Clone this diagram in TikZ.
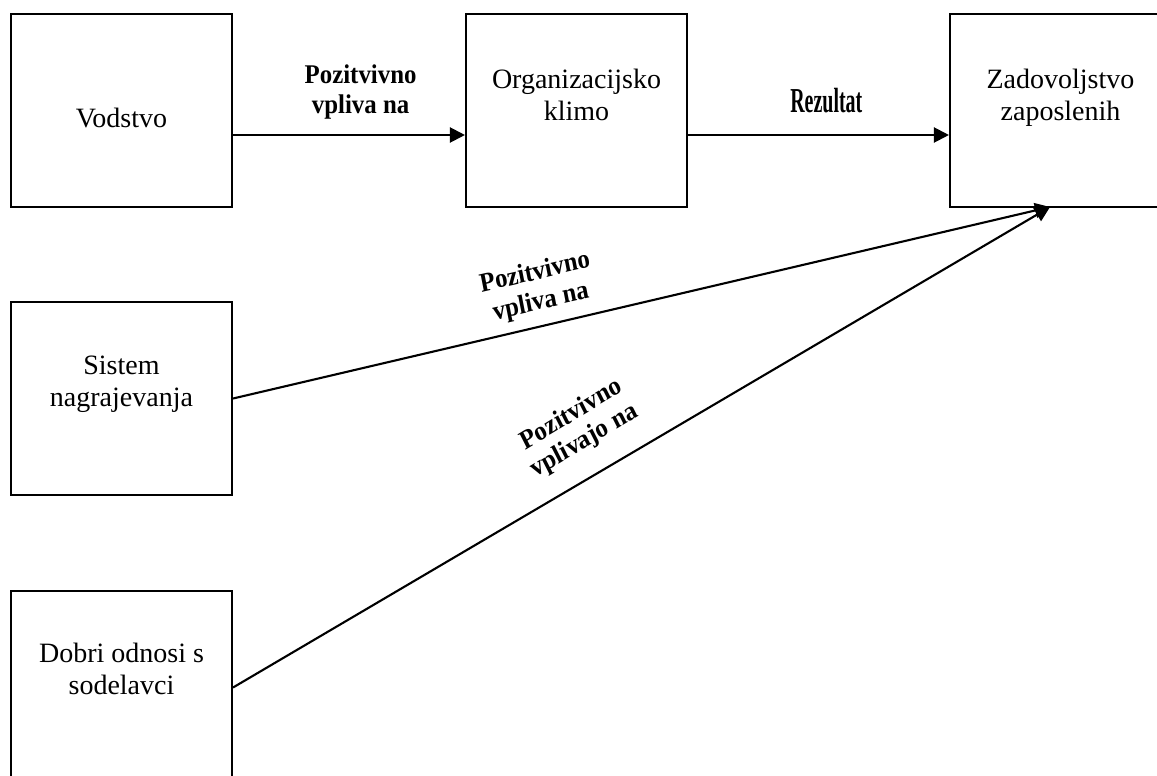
\documentclass[tikz,border=0pt]{standalone}
\usepackage{fontspec}
\setmainfont{Liberation Serif}
\newfontfamily\napis{Liberation Serif Bold}
\usetikzlibrary{arrows.meta,positioning}
\tikzset{
  blok/.style={draw,line width=2.1pt,minimum width=221pt,minimum height=193pt,inner sep=0pt},
  besedilo/.style={align=center,font=\fontsize{28}{32}\selectfont,inner sep=0pt},
  povezava/.style={line width=2.1pt,-{Triangle[length=15pt,width=15pt]}},
  oznaka/.style={align=center,font=\napis\fontsize{27}{30}\selectfont,inner sep=0pt,xscale=0.92}
}

\begin{document}
\begin{tikzpicture}[x=1pt,y=-1pt]
  \useasboundingbox (0,0) rectangle (1157,776);
  % okvirji
  \node[blok,label={[besedilo,yshift=-7pt]center:Vodstvo}] (vodstvo) at (121.5,110.5) {};
  \node[blok,label={[besedilo,yshift=16pt]center:Organizacijsko\\klimo}] (klima) at (576.5,110.5) {};
  \node[blok,label={[besedilo,yshift=13pt]center:Zadovoljstvo\\zaposlenih}] (zadovoljstvo) at (1060.5,110.5) {};
  \node[blok,label={[besedilo,yshift=14pt]center:Sistem\\nagrajevanja}] (sistem) at (121.5,398.5) {};
  \node[blok,label={[besedilo,yshift=19pt]center:Dobri odnosi s\\sodelavci}] (odnosi) at (121.5,687.5) {};
  \coordinate (stik) at (1050,207);
  % povezave
  \draw[povezava] ([yshift=-24.5pt]vodstvo.east) -- ([yshift=-24.5pt]klima.west)
    node[oznaka,pos=0.55,yshift=43pt] (napis1) {Pozitvivno\\vpliva na};
  \draw[povezava] ([yshift=-24.5pt]klima.east) -- ([yshift=-24.5pt]zadovoljstvo.west)
    node[oznaka,pos=0.53,yshift=34pt,font=\napis\fontsize{35}{35}\selectfont,xscale=0.62] (napis2) {Rezultat};
  \draw[povezava] (sistem.east) -- (stik);
  \draw[povezava] (odnosi.east) -- (stik);
  \node[oznaka,rotate=12] (napis3) at (538,288) {Pozitvivno\\vpliva na};
  \node[oznaka,rotate=29] (napis4) at (578,428) {Pozitvivno\\vplivajo na};
\end{tikzpicture}
\end{document}
